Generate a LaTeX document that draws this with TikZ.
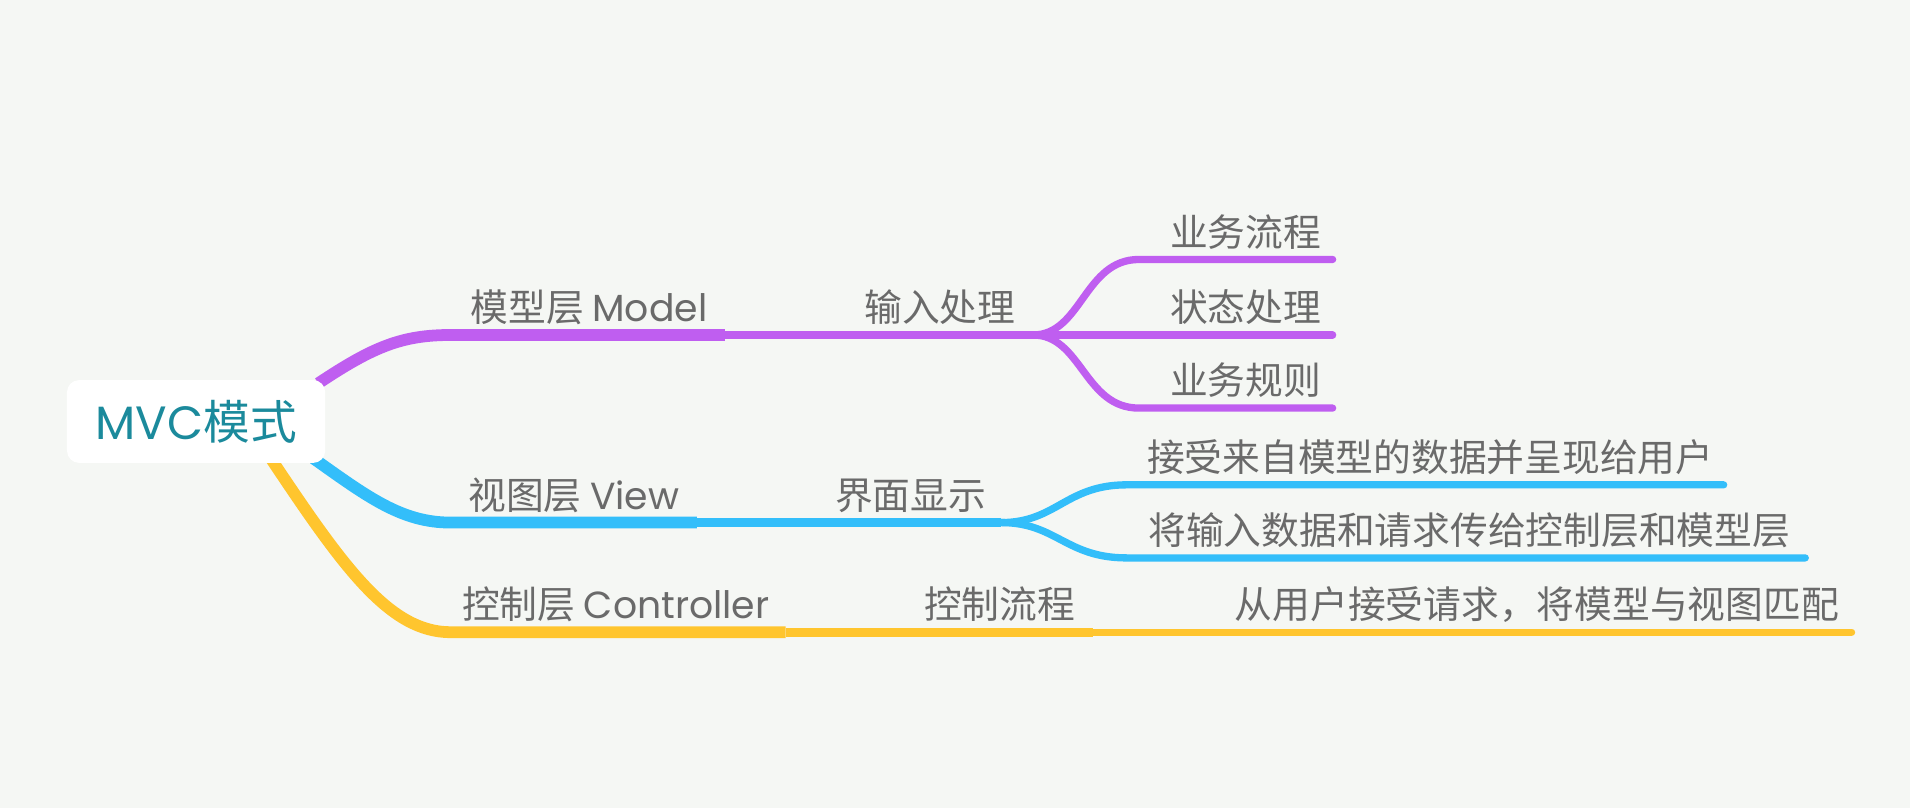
\documentclass[tikz,border=0pt]{standalone}
\usepackage{fontspec}
\usetikzlibrary{calc}
\usetikzlibrary{backgrounds}

\newfontfamily\cjk{Noto Sans CJK SC}
\newfontfamily\geo{Poppins}

\definecolor{bgGray}{HTML}{F5F7F4}
\definecolor{modelPurple}{HTML}{BF5EF0}
\definecolor{viewBlue}{HTML}{33BEFA}
\definecolor{ctrlYellow}{HTML}{FFC52E}
\definecolor{labelGray}{HTML}{6A6A6A}
\definecolor{rootTeal}{HTML}{1B8A9C}

\begin{document}
\begin{tikzpicture}[x=0.6pt, y=-0.6pt,
	lbl/.style={anchor=base east, inner sep=0pt, text=labelGray, font=\cjk\fontsize{18.6}{20}\selectfont},
	rootbox/.style={fill=white, rounded corners=6pt, text=rootTeal, minimum width=127.2pt, minimum height=40.8pt, font=\cjk\fontsize{23}{26}\selectfont},
	lvlOne/.style={line width=5.8pt},
	lvlTwo/.style={line width=4.4pt},
	lvlThree/.style={line width=3.6pt, line cap=round}]

% Define coordinates.

	\useasboundingbox (0,0) rectangle (1568,663);

	%root
	\node[rootbox] (root) at (161,346) {{\geo MVC}模式};

	%model branch
	\coordinate (modelStart) at (370,275);
	\coordinate (modelEnd) at (595,275);
	\coordinate (inputEnd) at (848,275);
	\coordinate (flowBend) at (935,213);
	\coordinate (flowEnd) at (1094,213);
	\coordinate (stateEnd) at (1094,275);
	\coordinate (ruleBend) at (935,335);
	\coordinate (ruleEnd) at (1094,335);

	%view branch
	\coordinate (viewStart) at (370,429);
	\coordinate (viewEnd) at (572,429);
	\coordinate (displayEnd) at (822,429);
	\coordinate (receiveBend) at (925,398);
	\coordinate (receiveEnd) at (1415,398);
	\coordinate (passBend) at (925,458);
	\coordinate (passEnd) at (1482,458);

	%controller branch
	\coordinate (ctrlStart) at (370,519);
	\coordinate (ctrlEnd) at (645,519);
	\coordinate (ctrlFlowEnd) at (897,519);
	\coordinate (matchEnd) at (1520,519);

% Draw lines.

	\begin{scope}[on background layer]
		\fill[bgGray] (0,0) rectangle (1568,663);

		\draw[lvlOne, modelPurple] ($(root.north east)+(-6,3)$) .. controls +(45,-30) and +(-40,0) .. (modelStart) -- (modelEnd);
		\draw[lvlTwo, modelPurple] (modelEnd) -- (inputEnd);
		\draw[lvlThree, modelPurple] (inputEnd) .. controls +(40,0) and +(-45,0) .. (flowBend) -- (flowEnd);
		\draw[lvlThree, modelPurple] (inputEnd) -- (stateEnd);
		\draw[lvlThree, modelPurple] (inputEnd) .. controls +(40,0) and +(-45,0) .. (ruleBend) -- (ruleEnd);

		\draw[lvlOne, viewBlue] ($(root.south east)+(-10,-4)$) .. controls +(45,32) and +(-40,0) .. (viewStart) -- (viewEnd);
		\draw[lvlTwo, viewBlue] (viewEnd) -- (displayEnd);
		\draw[lvlThree, viewBlue] (displayEnd) .. controls +(45,0) and +(-50,0) .. (receiveBend) -- (receiveEnd);
		\draw[lvlThree, viewBlue] (displayEnd) .. controls +(45,0) and +(-50,0) .. (passBend) -- (passEnd);

		\draw[lvlOne, ctrlYellow] ($(root.south east)+(-45,-4)$) .. controls +(60,90) and +(-50,0) .. (ctrlStart) -- (ctrlEnd);
		\draw[lvlTwo, ctrlYellow] (ctrlEnd) -- (ctrlFlowEnd);
		\draw[lvlThree, ctrlYellow] (ctrlFlowEnd) -- (matchEnd);
	\end{scope}

% Draw labels.

	\node[lbl] (modelLabel) at ($(modelEnd)+(-14,-11)$) {模型层 {\geo Model}};
	\node[lbl] (inputLabel) at ($(inputEnd)+(-14,-11)$) {输入处理};
	\node[lbl] (flowLabel) at ($(flowEnd)+(-9,-11)$) {业务流程};
	\node[lbl] (stateLabel) at ($(stateEnd)+(-9,-11)$) {状态处理};
	\node[lbl] (ruleLabel) at ($(ruleEnd)+(-9,-11)$) {业务规则};

	\node[lbl] (viewLabel) at ($(viewEnd)+(-14,-11)$) {视图层 {\geo View}};
	\node[lbl] (displayLabel) at ($(displayEnd)+(-12,-11)$) {界面显示};
	\node[lbl] (receiveLabel) at ($(receiveEnd)+(-8,-11)$) {接受来自模型的数据并呈现给用户};
	\node[lbl] (passLabel) at ($(passEnd)+(-12,-11)$) {将输入数据和请求传给控制层和模型层};

	\node[lbl] (ctrlLabel) at ($(ctrlEnd)+(-13,-11)$) {控制层 {\geo Controller}};
	\node[lbl] (ctrlFlowLabel) at ($(ctrlFlowEnd)+(-14,-11)$) {控制流程};
	\node[lbl] (matchLabel) at ($(matchEnd)+(-10,-11)$) {从用户接受请求，将模型与视图匹配};

\end{tikzpicture}
\end{document}
